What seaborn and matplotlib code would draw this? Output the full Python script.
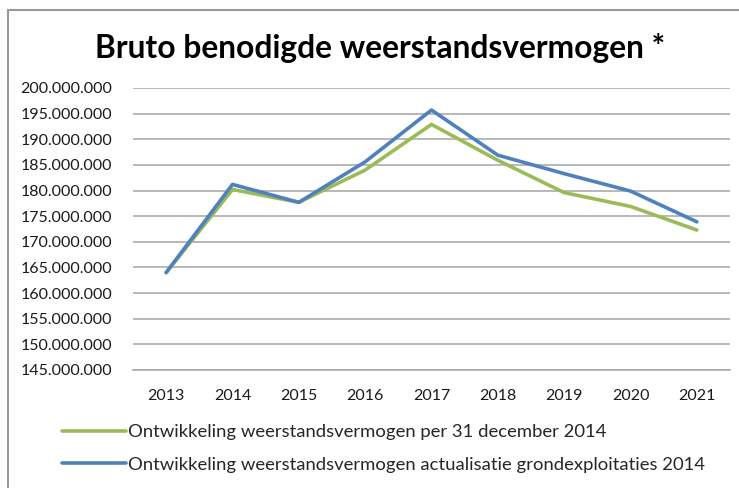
import numpy as np
import pandas as pd
import matplotlib
matplotlib.use("Agg")
import matplotlib.pyplot as plt
from matplotlib.lines import Line2D
import seaborn as sns

years = [2013, 2014, 2015, 2016, 2017, 2018, 2019, 2020, 2021]
green_vals = [164.0, 180.2, 177.7, 184.0, 192.9, 185.9, 179.6, 176.9, 172.3]
blue_vals = [164.0, 181.2, 177.7, 185.6, 195.7, 186.9, 183.3, 179.9, 173.9]
green_label = "Ontwikkeling weerstandsvermogen per 31 december 2014"
blue_label = "Ontwikkeling weerstandsvermogen actualisatie grondexploitaties 2014"
title = "Bruto benodigde weerstandsvermogen *"
yticks = [145, 150, 155, 160, 165, 170, 175, 180, 185, 190, 195, 200]

df = pd.DataFrame({
    "jaar": years * 2,
    "waarde": [v * 1e6 for v in green_vals] + [v * 1e6 for v in blue_vals],
    "reeks": [green_label] * len(years) + [blue_label] * len(years),
})

sns.set_theme(style="white")
plt.rcParams["font.family"] = ["Lato", "DejaVu Sans"]

fig = plt.figure(figsize=(7.39, 4.88), dpi=100)
ax = fig.add_axes([133 / 739, 1 - 370 / 488, (730 - 133) / 739, (370 - 88) / 488])

sns.lineplot(data=df, x="jaar", y="waarde", hue="reeks",
             palette={green_label: "#9BBB59", blue_label: "#4F81BD"},
             linewidth=2.6, ax=ax, legend=False, sort=False)

ax.set_xlim(2012.5, 2021.5)
ax.set_ylim(145e6, 200e6)
ax.set_yticks([v * 1e6 for v in yticks])
ax.set_yticklabels([f"{int(v * 1e6):,}".replace(",", ".") for v in yticks])
ax.set_xticks(years)
ax.set_xticklabels([str(y) for y in years])
ax.tick_params(axis="y", length=0, pad=15, labelsize=11.5, labelcolor="#1a1a1a")
ax.tick_params(axis="x", length=0, pad=14, labelsize=11.5, labelcolor="#1a1a1a")
ax.set_xlabel("")
ax.set_ylabel("")
ax.yaxis.grid(True, color="#a6a6a6", linewidth=1.1)
ax.set_axisbelow(True)
for s in ["top", "right", "left"]:
    ax.spines[s].set_visible(False)
ax.spines["bottom"].set_color("#a6a6a6")
ax.spines["bottom"].set_linewidth(1.1)

fig.text(380 / 739, 1 - 48 / 488, title, ha="center", va="center",
         fontsize=22.9, fontweight="bold", color="black")

handles = [Line2D([], [], color="#9BBB59", linewidth=2.6),
           Line2D([], [], color="#4F81BD", linewidth=2.6)]
fig.legend(handles, [green_label, blue_label], loc="upper left",
           bbox_to_anchor=(55 / 739, 1 - 417 / 488), frameon=False,
           fontsize=13.3, handlelength=3.45, handletextpad=0.12,
           labelspacing=0.88, borderaxespad=0)

fig.add_artist(Line2D([8 / 739, 8 / 739], [0, 1 - 10 / 488], color="#999999",
                      linewidth=1.5, transform=fig.transFigure))
fig.add_artist(Line2D([8 / 739, 1], [1 - 10 / 488, 1 - 10 / 488], color="#999999",
                      linewidth=1.5, transform=fig.transFigure))

fig.savefig("out.png", dpi=100, facecolor="white")
